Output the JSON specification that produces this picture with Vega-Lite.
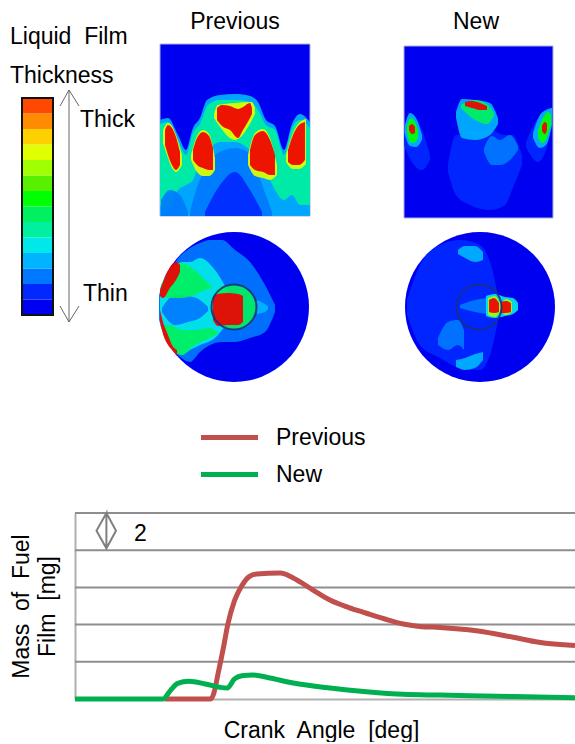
{
"$schema":"https://vega.github.io/schema/vega-lite/v6.json",
"padding":0,"background":"white","spacing":0,"bounds":"flush",
"resolve":{"scale":{"color":"independent"}},
"config":{"view":{"stroke":null},"font":"Liberation Sans"},
"datasets":{
"panels":[{"x":160,"x2":310,"y":44,"y2":216,"level":1},{"x":404,"x2":553,"y":46,"y2":218,"level":1}],
"disks":[{"x":234,"y":307,"level":1},{"x":480,"y":307,"level":1}],
"rings":[{"x":234,"y":307},{"x":479,"y":307}],
"bar":[{"level":1,"x":22,"x2":53,"y":299.5,"y2":315},{"level":2,"x":22,"x2":53,"y":284,"y2":299.5},{"level":3,"x":22,"x2":53,"y":268.5,"y2":284},{"level":4,"x":22,"x2":53,"y":253,"y2":268.5},{"level":5,"x":22,"x2":53,"y":237.5,"y2":253},{"level":6,"x":22,"x2":53,"y":222,"y2":237.5},{"level":7,"x":22,"x2":53,"y":206.5,"y2":222},{"level":8,"x":22,"x2":53,"y":191,"y2":206.5},{"level":9,"x":22,"x2":53,"y":175.5,"y2":191},{"level":10,"x":22,"x2":53,"y":160,"y2":175.5},{"level":11,"x":22,"x2":53,"y":144.5,"y2":160},{"level":12,"x":22,"x2":53,"y":129,"y2":144.5},{"level":13,"x":22,"x2":53,"y":113.5,"y2":129},{"level":14,"x":22,"x2":53,"y":98,"y2":113.5}],
"arrow":[{"seg":"shaft","o":1,"x":69,"y":90},{"seg":"shaft","o":2,"x":69,"y":322},{"seg":"top","o":1,"x":60,"y":106},{"seg":"top","o":2,"x":69,"y":90},{"seg":"top","o":3,"x":79,"y":106},{"seg":"bot","o":1,"x":60,"y":306},{"seg":"bot","o":2,"x":69,"y":322},{"seg":"bot","o":3,"x":79,"y":306}],
"labels":[{"t":"Previous","x":235,"y":29,"a":"m"},{"t":"New","x":476,"y":29,"a":"m"},{"t":"Liquid\u00a0 Film","x":10,"y":44,"a":"l"},{"t":"Thickness","x":10,"y":83,"a":"l"},{"t":"Thick","x":80,"y":127,"a":"l"},{"t":"Thin","x":83,"y":301,"a":"l"}],
"blobs":[
{"b":"pe","level":4,"x":160,"y":120,"y2":216},{"b":"pe","level":4,"x":168,"y":118,"y2":216},{"b":"pe","level":4,"x":178,"y":135,"y2":216},{"b":"pe","level":4,"x":186,"y":150,"y2":216},{"b":"pe","level":4,"x":193,"y":128,"y2":216},{"b":"pe","level":4,"x":200,"y":118,"y2":216},{"b":"pe","level":4,"x":207,"y":100,"y2":216},{"b":"pe","level":4,"x":220,"y":95,"y2":216},{"b":"pe","level":4,"x":235,"y":94,"y2":216},{"b":"pe","level":4,"x":250,"y":96,"y2":216},{"b":"pe","level":4,"x":258,"y":102,"y2":216},{"b":"pe","level":4,"x":266,"y":120,"y2":216},{"b":"pe","level":4,"x":275,"y":126,"y2":216},{"b":"pe","level":4,"x":284,"y":150,"y2":216},{"b":"pe","level":4,"x":292,"y":124,"y2":216},{"b":"pe","level":4,"x":300,"y":114,"y2":216},{"b":"pe","level":4,"x":310,"y":122,"y2":216},
{"b":"pg","level":6,"x":160,"y":124,"y2":205},{"b":"pg","level":6,"x":168,"y":122,"y2":210},{"b":"pg","level":6,"x":178,"y":140,"y2":190},{"b":"pg","level":6,"x":186,"y":155,"y2":185},{"b":"pg","level":6,"x":193,"y":133,"y2":180},{"b":"pg","level":6,"x":200,"y":124,"y2":160},{"b":"pg","level":6,"x":208,"y":105,"y2":150},{"b":"pg","level":6,"x":220,"y":100,"y2":142},{"b":"pg","level":6,"x":235,"y":100,"y2":142},{"b":"pg","level":6,"x":250,"y":102,"y2":150},{"b":"pg","level":6,"x":258,"y":110,"y2":158},{"b":"pg","level":6,"x":266,"y":125,"y2":170},{"b":"pg","level":6,"x":275,"y":130,"y2":190},{"b":"pg","level":6,"x":284,"y":155,"y2":200},{"b":"pg","level":6,"x":292,"y":128,"y2":195},{"b":"pg","level":6,"x":300,"y":120,"y2":205},{"b":"pg","level":6,"x":310,"y":128,"y2":205},
{"b":"pb","level":3,"x":190,"y":212,"y2":216},{"b":"pb","level":3,"x":196,"y":190,"y2":216},{"b":"pb","level":3,"x":205,"y":170,"y2":216},{"b":"pb","level":3,"x":215,"y":155,"y2":216},{"b":"pb","level":3,"x":225,"y":150,"y2":216},{"b":"pb","level":3,"x":235,"y":148,"y2":216},{"b":"pb","level":3,"x":248,"y":152,"y2":216},{"b":"pb","level":3,"x":256,"y":168,"y2":216},{"b":"pb","level":3,"x":264,"y":190,"y2":216},{"b":"pb","level":3,"x":272,"y":212,"y2":216},
{"b":"pb2","level":2,"x":205,"y":212,"y2":216},{"b":"pb2","level":2,"x":220,"y":185,"y2":216},{"b":"pb2","level":2,"x":235,"y":172,"y2":216},{"b":"pb2","level":2,"x":250,"y":190,"y2":216},{"b":"pb2","level":2,"x":262,"y":212,"y2":216},
{"b":"pl","level":3,"x":161,"y":200,"y2":216},{"b":"pl","level":3,"x":170,"y":190,"y2":216},{"b":"pl","level":3,"x":180,"y":195,"y2":216},{"b":"pl","level":3,"x":188,"y":212,"y2":216},
{"b":"pcy","level":11,"x":214,"y":114,"y2":118},{"b":"pcy","level":11,"x":218,"y":105,"y2":124},{"b":"pcy","level":11,"x":235,"y":103,"y2":140},{"b":"pcy","level":11,"x":252,"y":102,"y2":120},{"b":"pcy","level":11,"x":255,"y":108,"y2":114},
{"b":"pcr","level":15,"x":217,"y":108,"y2":120},{"b":"pcr","level":15,"x":222,"y":105,"y2":126},{"b":"pcr","level":15,"x":230,"y":106,"y2":130},{"b":"pcr","level":15,"x":238,"y":109,"y2":138},{"b":"pcr","level":15,"x":243,"y":107,"y2":130},{"b":"pcr","level":15,"x":250,"y":103,"y2":118},{"b":"pcr","level":15,"x":252,"y":108,"y2":114},
{"b":"p1y","level":11,"x":163,"y":130,"y2":143},{"b":"p1y","level":11,"x":168,"y":123,"y2":158},{"b":"p1y","level":11,"x":172,"y":126,"y2":168},{"b":"p1y","level":11,"x":176,"y":135,"y2":172},{"b":"p1y","level":11,"x":182,"y":155,"y2":165},
{"b":"p1r","level":15,"x":165,"y":130,"y2":145},{"b":"p1r","level":15,"x":168,"y":125,"y2":155},{"b":"p1r","level":15,"x":172,"y":128,"y2":165},{"b":"p1r","level":15,"x":176,"y":137,"y2":170},{"b":"p1r","level":15,"x":180,"y":152,"y2":165},
{"b":"p2y","level":11,"x":191,"y":155,"y2":160},{"b":"p2y","level":11,"x":197,"y":136,"y2":172},{"b":"p2y","level":11,"x":203,"y":130,"y2":176},{"b":"p2y","level":11,"x":209,"y":134,"y2":176},{"b":"p2y","level":11,"x":215,"y":158,"y2":170},
{"b":"p2r","level":15,"x":193,"y":150,"y2":160},{"b":"p2r","level":15,"x":197,"y":138,"y2":165},{"b":"p2r","level":15,"x":203,"y":132,"y2":168},{"b":"p2r","level":15,"x":209,"y":136,"y2":170},{"b":"p2r","level":15,"x":213,"y":148,"y2":170},
{"b":"p3y","level":11,"x":248,"y":155,"y2":165},{"b":"p3y","level":11,"x":255,"y":133,"y2":176},{"b":"p3y","level":11,"x":263,"y":129,"y2":178},{"b":"p3y","level":11,"x":270,"y":138,"y2":180},{"b":"p3y","level":11,"x":277,"y":165,"y2":175},
{"b":"p3r","level":15,"x":250,"y":150,"y2":165},{"b":"p3r","level":15,"x":255,"y":135,"y2":170},{"b":"p3r","level":15,"x":263,"y":131,"y2":172},{"b":"p3r","level":15,"x":270,"y":140,"y2":175},{"b":"p3r","level":15,"x":275,"y":155,"y2":175},
{"b":"p4y","level":11,"x":286,"y":155,"y2":162},{"b":"p4y","level":11,"x":293,"y":133,"y2":169},{"b":"p4y","level":11,"x":299,"y":123,"y2":169},{"b":"p4y","level":11,"x":306,"y":119,"y2":164},
{"b":"p4r","level":15,"x":288,"y":150,"y2":162},{"b":"p4r","level":15,"x":293,"y":135,"y2":165},{"b":"p4r","level":15,"x":299,"y":125,"y2":165},{"b":"p4r","level":15,"x":305,"y":122,"y2":160},
{"b":"nd","level":2,"x":448,"y":165,"y2":172},{"b":"nd","level":2,"x":456,"y":135,"y2":195},{"b":"nd","level":2,"x":470,"y":135,"y2":205},{"b":"nd","level":2,"x":490,"y":130,"y2":210},{"b":"nd","level":2,"x":505,"y":135,"y2":205},{"b":"nd","level":2,"x":512,"y":135,"y2":190},{"b":"nd","level":2,"x":522,"y":155,"y2":165},
{"b":"nd3","level":3,"x":484,"y":148,"y2":152},{"b":"nd3","level":3,"x":492,"y":136,"y2":165},{"b":"nd3","level":3,"x":500,"y":140,"y2":165},{"b":"nd3","level":3,"x":510,"y":135,"y2":160},{"b":"nd3","level":3,"x":518,"y":146,"y2":150},
{"b":"nl1","level":2,"x":404,"y":135,"y2":145},{"b":"nl1","level":2,"x":414,"y":118,"y2":165},{"b":"nl1","level":2,"x":422,"y":130,"y2":170},{"b":"nl1","level":2,"x":430,"y":155,"y2":160},
{"b":"nr1","level":2,"x":526,"y":142,"y2":147},{"b":"nr1","level":2,"x":538,"y":118,"y2":162},{"b":"nr1","level":2,"x":546,"y":110,"y2":150},{"b":"nr1","level":2,"x":552,"y":108,"y2":125},
{"b":"nm4","level":4,"x":456,"y":112,"y2":118},{"b":"nm4","level":4,"x":462,"y":99,"y2":138},{"b":"nm4","level":4,"x":475,"y":100,"y2":140},{"b":"nm4","level":4,"x":490,"y":103,"y2":135},{"b":"nm4","level":4,"x":498,"y":118,"y2":124},
{"b":"nm7","level":7,"x":461,"y":105,"y2":108},{"b":"nm7","level":7,"x":475,"y":100,"y2":120},{"b":"nm7","level":7,"x":487,"y":104,"y2":124},{"b":"nm7","level":7,"x":494,"y":113,"y2":116},
{"b":"nmr","level":15,"x":465,"y":102,"y2":106},{"b":"nmr","level":15,"x":472,"y":101,"y2":108},{"b":"nmr","level":15,"x":480,"y":103,"y2":110},{"b":"nmr","level":15,"x":487,"y":106,"y2":110},
{"b":"nl4","level":4,"x":405,"y":125,"y2":135},{"b":"nl4","level":4,"x":410,"y":113,"y2":146},{"b":"nl4","level":4,"x":416,"y":118,"y2":147},{"b":"nl4","level":4,"x":422,"y":135,"y2":140},
{"b":"nl7","level":8,"x":407,"y":125,"y2":133},{"b":"nl7","level":8,"x":411,"y":118,"y2":143},{"b":"nl7","level":8,"x":415,"y":122,"y2":142},{"b":"nl7","level":8,"x":418,"y":130,"y2":138},
{"b":"nlr","level":15,"x":409,"y":126,"y2":130},{"b":"nlr","level":15,"x":412,"y":124,"y2":134},{"b":"nlr","level":15,"x":415,"y":127,"y2":133},
{"b":"nr4","level":4,"x":533,"y":133,"y2":138},{"b":"nr4","level":4,"x":540,"y":115,"y2":148},{"b":"nr4","level":4,"x":546,"y":110,"y2":145},{"b":"nr4","level":4,"x":552,"y":108,"y2":125},
{"b":"nr7","level":8,"x":538,"y":130,"y2":138},{"b":"nr7","level":8,"x":543,"y":118,"y2":143},{"b":"nr7","level":8,"x":548,"y":112,"y2":135},{"b":"nr7","level":8,"x":551,"y":115,"y2":125},
{"b":"nrr","level":15,"x":542,"y":126,"y2":131},{"b":"nrr","level":15,"x":545,"y":122,"y2":134},{"b":"nrr","level":15,"x":547,"y":124,"y2":130},
{"b":"d1","level":3,"x":159,"y":295,"y2":320},{"b":"d1","level":3,"x":165,"y":276,"y2":338},{"b":"d1","level":3,"x":172,"y":267,"y2":349},{"b":"d1","level":3,"x":180,"y":256,"y2":357},{"b":"d1","level":3,"x":190,"y":248,"y2":362},{"b":"d1","level":3,"x":200,"y":243,"y2":352},{"b":"d1","level":3,"x":210,"y":240,"y2":345},{"b":"d1","level":3,"x":222,"y":240,"y2":342},{"b":"d1","level":3,"x":235,"y":250,"y2":342},{"b":"d1","level":3,"x":250,"y":262,"y2":338},{"b":"d1","level":3,"x":265,"y":285,"y2":332},{"b":"d1","level":3,"x":275,"y":305,"y2":312},
{"b":"d2","level":5,"x":160,"y":288,"y2":325},{"b":"d2","level":5,"x":165,"y":278,"y2":336},{"b":"d2","level":5,"x":172,"y":270,"y2":347},{"b":"d2","level":5,"x":182,"y":262,"y2":355},{"b":"d2","level":5,"x":190,"y":262,"y2":350},{"b":"d2","level":5,"x":200,"y":258,"y2":345},{"b":"d2","level":5,"x":215,"y":270,"y2":338},{"b":"d2","level":5,"x":232,"y":300,"y2":315},
{"b":"dh","level":3,"x":162,"y":308,"y2":312},{"b":"dh","level":3,"x":175,"y":295,"y2":325},{"b":"dh","level":3,"x":188,"y":296,"y2":322},{"b":"dh","level":3,"x":200,"y":300,"y2":318},{"b":"dh","level":3,"x":208,"y":307,"y2":311},
{"b":"d3","level":7,"x":161,"y":285,"y2":296},{"b":"d3","level":7,"x":170,"y":270,"y2":298},{"b":"d3","level":7,"x":180,"y":263,"y2":298},{"b":"d3","level":7,"x":192,"y":268,"y2":296},{"b":"d3","level":7,"x":205,"y":280,"y2":290},{"b":"d3","level":7,"x":212,"y":287,"y2":288},
{"b":"d4","level":7,"x":163,"y":325,"y2":334},{"b":"d4","level":7,"x":170,"y":325,"y2":347},{"b":"d4","level":7,"x":182,"y":330,"y2":355},{"b":"d4","level":7,"x":195,"y":330,"y2":345},{"b":"d4","level":7,"x":210,"y":328,"y2":338},{"b":"d4","level":7,"x":218,"y":333,"y2":334},
{"b":"dr1","level":15,"x":160,"y":290,"y2":296},{"b":"dr1","level":15,"x":163,"y":282,"y2":298},{"b":"dr1","level":15,"x":170,"y":267,"y2":288},{"b":"dr1","level":15,"x":176,"y":262,"y2":280},{"b":"dr1","level":15,"x":180,"y":265,"y2":272},
{"b":"dr2","level":15,"x":160,"y":310,"y2":322},{"b":"dr2","level":15,"x":163,"y":322,"y2":334},{"b":"dr2","level":15,"x":168,"y":335,"y2":345},{"b":"dr2","level":15,"x":172,"y":345,"y2":350},{"b":"dr2","level":15,"x":177,"y":350,"y2":356},
{"b":"pp0","level":4,"x":257,"y":300,"y2":314},{"b":"pp0","level":4,"x":265,"y":304,"y2":312},{"b":"pp0","level":4,"x":268,"y":306,"y2":309},
{"b":"pp1","level":7,"x":212,"y":298,"y2":318},{"b":"pp1","level":7,"x":218,"y":289,"y2":325},{"b":"pp1","level":7,"x":228,"y":285,"y2":329},{"b":"pp1","level":7,"x":240,"y":285,"y2":329},{"b":"pp1","level":7,"x":250,"y":291,"y2":324},{"b":"pp1","level":7,"x":257,"y":303,"y2":311},
{"b":"pp2","level":15,"x":213,"y":296,"y2":320},{"b":"pp2","level":15,"x":218,"y":294,"y2":326},{"b":"pp2","level":15,"x":228,"y":293,"y2":325},{"b":"pp2","level":15,"x":238,"y":294,"y2":325},{"b":"pp2","level":15,"x":243,"y":296,"y2":322},
{"b":"e1","level":2,"x":407,"y":300,"y2":315},{"b":"e1","level":2,"x":420,"y":265,"y2":345},{"b":"e1","level":2,"x":440,"y":245,"y2":358},{"b":"e1","level":2,"x":460,"y":240,"y2":368},{"b":"e1","level":2,"x":480,"y":245,"y2":370},{"b":"e1","level":2,"x":490,"y":262,"y2":355},{"b":"e1","level":2,"x":500,"y":305,"y2":310},
{"b":"e2","level":4,"x":458,"y":250,"y2":254},{"b":"e2","level":4,"x":465,"y":246,"y2":258},{"b":"e2","level":4,"x":475,"y":246,"y2":262},{"b":"e2","level":4,"x":483,"y":252,"y2":260},
{"b":"e3","level":3,"x":438,"y":338,"y2":345},{"b":"e3","level":3,"x":448,"y":322,"y2":350},{"b":"e3","level":3,"x":458,"y":320,"y2":345},{"b":"e3","level":3,"x":464,"y":330,"y2":350},
{"b":"e4","level":4,"x":456,"y":360,"y2":367},{"b":"e4","level":4,"x":465,"y":358,"y2":370},{"b":"e4","level":4,"x":475,"y":354,"y2":368},{"b":"e4","level":4,"x":483,"y":352,"y2":360},
{"b":"e5","level":3,"x":460,"y":305,"y2":308},{"b":"e5","level":3,"x":475,"y":300,"y2":312},{"b":"e5","level":3,"x":488,"y":298,"y2":314},
{"b":"e6","level":5,"x":486,"y":296,"y2":316},{"b":"e6","level":5,"x":495,"y":294,"y2":318},{"b":"e6","level":5,"x":505,"y":297,"y2":316},{"b":"e6","level":5,"x":513,"y":298,"y2":314},{"b":"e6","level":5,"x":518,"y":303,"y2":310},
{"b":"e7","level":10,"x":488,"y":298,"y2":315},{"b":"e7","level":10,"x":495,"y":296,"y2":317},{"b":"e7","level":10,"x":501,"y":303,"y2":312},{"b":"e7","level":10,"x":506,"y":299,"y2":315},{"b":"e7","level":10,"x":512,"y":302,"y2":312},
{"b":"e8","level":15,"x":489,"y":300,"y2":312},{"b":"e8","level":15,"x":494,"y":298,"y2":313},{"b":"e8","level":15,"x":499,"y":303,"y2":312},
{"b":"e9","level":15,"x":501,"y":302,"y2":313},{"b":"e9","level":15,"x":506,"y":301,"y2":313},{"b":"e9","level":15,"x":511,"y":303,"y2":312}
],
"film":[
{"s":"Previous","x":89.8,"m":0},{"s":"Previous","x":135.7,"m":0},{"s":"Previous","x":138.6,"m":0.27},{"s":"Previous","x":143,"m":1.34},{"s":"Previous","x":148.5,"m":2.78},{"s":"Previous","x":152.9,"m":4.03},{"s":"Previous","x":159.5,"m":5.29},{"s":"Previous","x":166.8,"m":6.09},{"s":"Previous","x":174.2,"m":6.58},{"s":"Previous","x":181.5,"m":6.72},{"s":"Previous","x":205.4,"m":6.77},{"s":"Previous","x":218.2,"m":6.51},{"s":"Previous","x":236.5,"m":5.91},{"s":"Previous","x":254.9,"m":5.32},{"s":"Previous","x":273.2,"m":4.93},{"s":"Previous","x":291.5,"m":4.61},{"s":"Previous","x":309.9,"m":4.3},{"s":"Previous","x":328.2,"m":4.03},{"s":"Previous","x":346.5,"m":3.89},{"s":"Previous","x":364.9,"m":3.85},{"s":"Previous","x":401.5,"m":3.67},{"s":"Previous","x":438.2,"m":3.32},{"s":"Previous","x":463.9,"m":3.05},{"s":"Previous","x":500,"m":2.87},
{"s":"New","x":0,"m":0},{"s":"New","x":88,"m":0},{"s":"New","x":95.3,"m":0.45},{"s":"New","x":102.7,"m":0.84},{"s":"New","x":113.7,"m":0.95},{"s":"New","x":130.2,"m":0.81},{"s":"New","x":144.8,"m":0.63},{"s":"New","x":152.2,"m":0.59},{"s":"New","x":159.5,"m":1.08},{"s":"New","x":166.8,"m":1.25},{"s":"New","x":177.9,"m":1.29},{"s":"New","x":192.5,"m":1.16},{"s":"New","x":218.2,"m":0.86},{"s":"New","x":254.9,"m":0.59},{"s":"New","x":291.5,"m":0.39},{"s":"New","x":328.2,"m":0.25},{"s":"New","x":364.9,"m":0.21},{"s":"New","x":438.2,"m":0.13},{"s":"New","x":500,"m":0.07}
],
"grid":[{"m":2},{"m":4},{"m":6},{"m":8},{"m":10}],
"diamond":[{"o":1,"x":31.4,"m":10},{"o":2,"x":41,"m":9.05},{"o":3,"x":31.4,"m":8.1},{"o":4,"x":21.5,"m":9.05},{"o":5,"x":31.4,"m":10},{"o":6,"x":31.4,"m":8.1}],
"scale":[{"x":59,"m":8.5,"t":"2"}]
},
"vconcat":[
{"width":575,"height":513,
 "encoding":{
  "x":{"field":"x","type":"quantitative","scale":{"domain":[0,575]},"axis":null},
  "y":{"field":"y","type":"quantitative","scale":{"domain":[513,0]},"axis":null},
  "color":{"field":"level","type":"ordinal","legend":null,"scale":{"domain":[1,2,3,4,5,6,7,8,9,10,11,12,13,14,15],"range":["#0000f0","#0028ff","#0078ff","#00b4ff","#00e8e8","#00f0a0","#00f060","#00ff00","#58f000","#a0ff00","#e0ff00","#ffd000","#ff8c00","#ff4800","#f00000"]}}
 },
 "layer":[
  {"data":{"name":"panels"},"mark":{"type":"rect","stroke":"#a9b4d6","strokeWidth":1},"encoding":{"x2":{"field":"x2"},"y2":{"field":"y2"}}},
  {"data":{"name":"disks"},"mark":{"type":"point","shape":"circle","filled":true,"size":22500,"opacity":1}},
  {"data":{"name":"blobs"},"mark":{"type":"area","interpolate":"monotone","opacity":0.92},"encoding":{"y2":{"field":"y2"},"detail":{"field":"b"}}},
  {"data":{"name":"rings"},"mark":{"type":"point","shape":"circle","filled":false,"size":2025,"strokeWidth":2,"opacity":0.9},"encoding":{"color":{"value":"#1c2f80"}}},
  {"data":{"name":"bar"},"mark":{"type":"rect"},"encoding":{"x2":{"field":"x2"},"y2":{"field":"y2"}}},
  {"data":{"values":[{"x":22,"x2":53,"y":98,"y2":315}]},"mark":{"type":"rect","filled":false,"strokeWidth":2},"encoding":{"x2":{"field":"x2"},"y2":{"field":"y2"},"color":{"value":"#111111"}}},
  {"data":{"name":"arrow"},"mark":{"type":"line","strokeWidth":1},"encoding":{"order":{"field":"o"},"detail":{"field":"seg"},"color":{"value":"#666666"}}},
  {"data":{"name":"labels"},"transform":[{"filter":"datum.a=='m'"}],"mark":{"type":"text","font":"Liberation Sans","fontSize":23,"align":"center","baseline":"alphabetic"},"encoding":{"text":{"field":"t"},"color":{"value":"#000000"}}},
  {"data":{"name":"labels"},"transform":[{"filter":"datum.a=='l'"}],"mark":{"type":"text","font":"Liberation Sans","fontSize":23,"align":"left","baseline":"alphabetic"},"encoding":{"text":{"field":"t"},"color":{"value":"#000000"}}}
 ]
},
{"bounds":"flush","spacing":0,"resolve":{"scale":{"color":"independent"}},"hconcat":[
 {"width":75,"height":186,"data":{"values":[{"a":1}]},"mark":{"type":"text","opacity":0},"encoding":{}},
 {"width":500,"height":186,
  "layer":[
   {"data":{"name":"grid"},"mark":{"type":"rule","stroke":"#8e8e8e","strokeWidth":2},"encoding":{"y":{"field":"m","type":"quantitative"}}},
   {"data":{"name":"film"},"mark":{"type":"line","interpolate":"monotone","strokeWidth":5,"clip":false},
    "encoding":{
     "x":{"field":"x","type":"quantitative","title":"Crank\u00a0 Angle\u00a0 [deg]","scale":{"domain":[0,500]},"axis":{"labels":false,"ticks":false,"grid":false,"domainColor":"#b0b0b0","domainWidth":2,"titleFont":"Liberation Sans","titleFontSize":23,"titleFontWeight":"normal","titleColor":"#000000","titlePadding":20,"titleX":246}},
     "y":{"field":"m","type":"quantitative","title":["Mass\u00a0 of\u00a0 Fuel","Film\u00a0 [mg]"],"scale":{"domain":[0,10]},"axis":{"labels":false,"ticks":false,"grid":false,"domainColor":"#b0b0b0","domainWidth":2,"titleFont":"Liberation Sans","titleFontSize":23,"titleFontWeight":"normal","titleColor":"#000000","titleX":-42,"titleLineHeight":26}},
     "color":{"field":"s","type":"nominal","scale":{"domain":["Previous","New"],"range":["#c0504d","#00b050"]},"legend":{"title":null,"orient":"none","legendX":132,"legendY":-98,"symbolType":"M-1.425,0H1.425","symbolSize":1600,"symbolStrokeWidth":5,"labelFont":"Liberation Sans","labelFontSize":23,"labelColor":"#000000","labelOffset":24,"rowPadding":2,"symbolOpacity":1,"labelLimit":200}}
    }},
   {"data":{"name":"diamond"},"mark":{"type":"line","stroke":"#808080","strokeWidth":2,"clip":false},"encoding":{"x":{"field":"x","type":"quantitative"},"y":{"field":"m","type":"quantitative"},"order":{"field":"o"}}},
   {"data":{"name":"scale"},"mark":{"type":"text","font":"Liberation Sans","fontSize":23,"align":"left","baseline":"alphabetic","color":"#000000"},"encoding":{"x":{"field":"x","type":"quantitative"},"y":{"field":"m","type":"quantitative"},"text":{"field":"t"}}}
  ]}
]}
]
}
